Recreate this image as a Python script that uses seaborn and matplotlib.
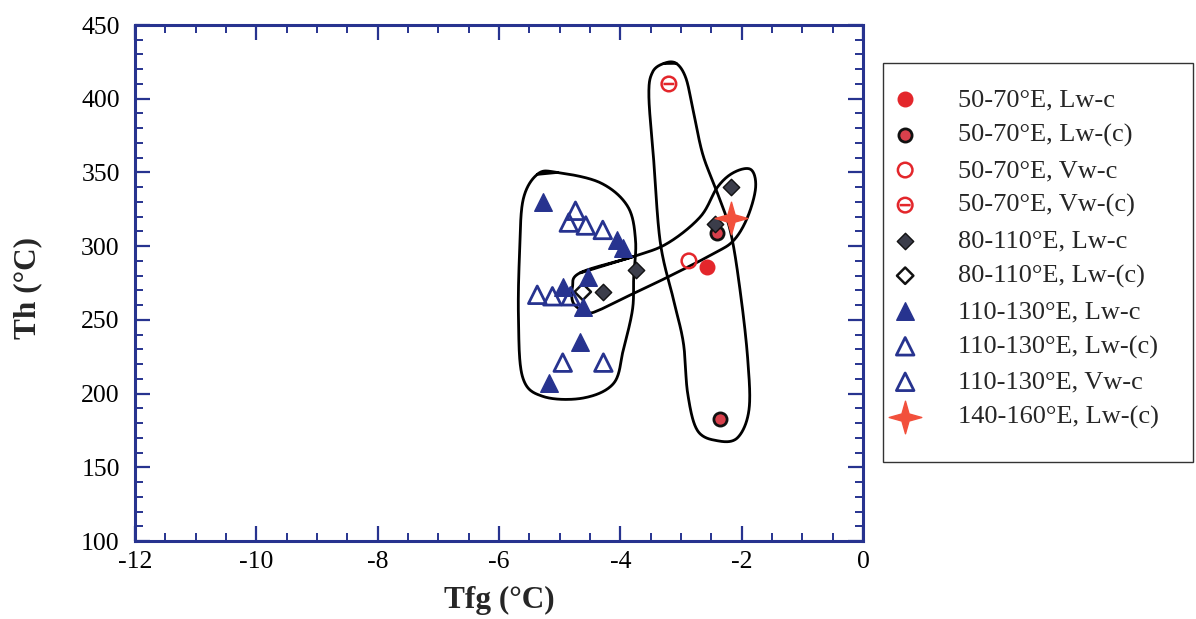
import numpy as np
import pandas as pd
import matplotlib
matplotlib.use("Agg")
import matplotlib.pyplot as plt
from matplotlib.path import Path
from matplotlib.patches import Rectangle
from matplotlib.ticker import MultipleLocator
import seaborn as sns

# ---- data (Tfg, Th) ----
red_lwc_x = [-2.58]
red_lwc_y = [286]
red_lwp_x = [-2.40, -2.36]
red_lwp_y = [309, 183]
red_vwc_x = [-2.87]
red_vwc_y = [290]
red_vwp_x = [-3.20]
red_vwp_y = [410]
dia_lwc_x = [-2.18, -3.75, -4.29, -2.44]
dia_lwc_y = [340, 284, 269, 315]
dia_lwp_x = [-4.62]
dia_lwp_y = [269]
tri_lwc_x = [-5.27, -4.05, -3.96, -4.54, -4.95, -4.62, -4.66, -5.18]
tri_lwc_y = [330, 304, 299, 279, 272, 259, 235, 207]
tri_lwp_x = [-4.74, -4.85, -4.57, -4.29, -5.12, -4.82, -4.95]
tri_lwp_y = [324, 316, 314, 311, 266, 266, 221]
tri_vwc_x = [-5.37, -4.28]
tri_vwc_y = [267, 221]
star_x = [-2.18]
star_y = [319]

labels = ["50-70°E, Lw-c", "50-70°E, Lw-(c)", "50-70°E, Vw-c", "50-70°E, Vw-(c)",
          "80-110°E, Lw-c", "80-110°E, Lw-(c)", "110-130°E, Lw-c",
          "110-130°E, Lw-(c)", "110-130°E, Vw-c", "140-160°E, Lw-(c)"]

# hand-drawn envelopes around groups
left_env_x = [-5.36, -5.04, -4.33, -3.88, -3.75, -3.78, -3.80, -3.95, -4.11,
              -4.61, -5.27, -5.61, -5.68, -5.66, -5.60]
left_env_y = [349, 350, 343, 327, 304, 279, 257, 230, 207, 197, 198, 211,
              252, 297, 332]
mid_env_x = [-4.66, -3.78, -3.22, -2.68, -2.40, -2.13, -1.85, -1.77, -1.90,
             -2.13, -2.46, -3.22, -3.78, -4.33, -4.54, -4.77, -4.79]
mid_env_y = [282, 293, 302, 320, 340, 350, 352, 340, 320, 304, 295, 279,
             268, 257, 255, 261, 272]
tall_env_x = [-3.28, -3.08, -2.92, -2.80, -2.64, -2.40, -2.18, -2.02, -1.90, -1.88,
              -2.07, -2.40, -2.73, -2.89, -2.96, -3.12, -3.34, -3.45, -3.53,
              -3.47]
tall_env_y = [424, 424, 414, 392, 362, 336, 309, 268, 223, 189, 170, 168, 175,
              200, 234, 263, 302, 358, 402, 418]


def closed_spline(xs, ys, n=30):
    # closed Catmull-Rom through the outline points
    p = np.column_stack([xs, ys]).astype(float)
    k = len(p)
    out = []
    t = np.linspace(0, 1, n, endpoint=False)[:, None]
    for i in range(k):
        p0, p1, p2, p3 = p[i - 1], p[i], p[(i + 1) % k], p[(i + 2) % k]
        seg = 0.5 * ((2 * p1) + (-p0 + p2) * t + (2 * p0 - 5 * p1 + 4 * p2 - p3) * t ** 2
                     + (-p0 + 3 * p1 - 3 * p2 + p3) * t ** 3)
        out.append(seg)
    out = np.vstack(out + [p[1:2]])
    return out[:, 0], out[:, 1]


circ = Path.unit_circle()
theta = Path.make_compound_path(circ, Path([[-0.75, 0], [0.75, 0]], [Path.MOVETO, Path.LINETO]))
star = Path([[0, 1], [0.22, 0.22], [1, 0], [0.22, -0.22], [0, -1], [-0.22, -0.22],
             [-1, 0], [-0.22, 0.22], [0, 1]],
            [Path.MOVETO] + [Path.LINETO] * 7 + [Path.CLOSEPOLY])

RED = "#e3262b"
NAVY = "#27338f"
DARK = "#3b3d4a"

groups = [
    (red_lwc_x, red_lwc_y, "o", 110, RED, RED, 1.0),
    (red_lwp_x, red_lwp_y, "o", 90, "#d8404c", "#111111", 2.0),
    (red_vwc_x, red_vwc_y, "o", 110, "none", RED, 1.8),
    (red_vwp_x, red_vwp_y, theta, 110, "none", RED, 1.8),
    (dia_lwc_x, dia_lwc_y, "D", 70, DARK, "#111111", 1.0),
    (dia_lwp_x, dia_lwp_y, "D", 70, "none", "#111111", 1.8),
    (tri_lwc_x, tri_lwc_y, "^", 160, NAVY, NAVY, 1.0),
    (tri_lwp_x, tri_lwp_y, "^", 160, "none", NAVY, 2.0),
    (tri_vwc_x, tri_vwc_y, "^", 160, "none", NAVY, 2.0),
    (star_x, star_y, star, 550, "#f2503c", "#f2503c", 1.0),
]

sns.set_style("ticks")
plt.rcParams["font.family"] = ["Liberation Serif", "DejaVu Serif"]
plt.rcParams["axes.unicode_minus"] = False

fig = plt.figure(figsize=(11.96, 6.19), dpi=100)
ax = fig.add_axes([0.1129, 0.126, 0.6087, 0.8336])

for ex, ey in [(left_env_x, left_env_y), (mid_env_x, mid_env_y), (tall_env_x, tall_env_y)]:
    sx, sy = closed_spline(ex, ey)
    ax.plot(sx, sy, color="black", lw=2.0, zorder=1)

for (gx, gy, mk, s, fc, ec, lw), lab in zip(groups, labels):
    df = pd.DataFrame({"Tfg": gx, "Th": gy})
    sns.scatterplot(data=df, x="Tfg", y="Th", marker=mk, s=s, facecolor=fc,
                    edgecolor=ec, linewidth=lw, label=lab, ax=ax, zorder=3)

ax.set_xlim(-12, 0)
ax.set_ylim(100, 450)
ax.xaxis.set_major_locator(MultipleLocator(2))
ax.xaxis.set_minor_locator(MultipleLocator(0.5))
ax.yaxis.set_major_locator(MultipleLocator(50))
ax.yaxis.set_minor_locator(MultipleLocator(10))
ax.tick_params(which="both", direction="in", top=True, right=True, color=NAVY,
               labelsize=18.5, labelcolor="black")
ax.tick_params(which="major", length=11, width=1.6)
ax.tick_params(which="minor", length=6, width=1.4)
ax.tick_params(axis="x", which="major", pad=7)
ax.tick_params(axis="y", which="major", pad=11)
for sp in ax.spines.values():
    sp.set_color(NAVY)
    sp.set_linewidth(2.2)

ax.set_xlabel("Tfg (°C)", fontsize=22.5, fontweight="bold")
ax.set_ylabel("Th (°C)", fontsize=22.5, fontweight="bold")
ax.xaxis.set_label_coords(0.5, -0.087)
ax.yaxis.set_label_coords(-0.128, 0.49)

# legend box outside the axes
fig.patches.append(Rectangle((0.7383, 0.2536), 0.2592, 0.6446, transform=fig.transFigure,
                             facecolor="white", edgecolor="#333333", linewidth=1.0,
                             zorder=-1))
leg = ax.legend(loc="upper left", bbox_to_anchor=(0.7458, 0.858),
                bbox_transform=fig.transFigure, fontsize=19, frameon=False,
                labelspacing=0.44, handletextpad=1.5, borderpad=0,
                borderaxespad=0, handlelength=1.0)

fig.savefig("out.png", dpi=100)
